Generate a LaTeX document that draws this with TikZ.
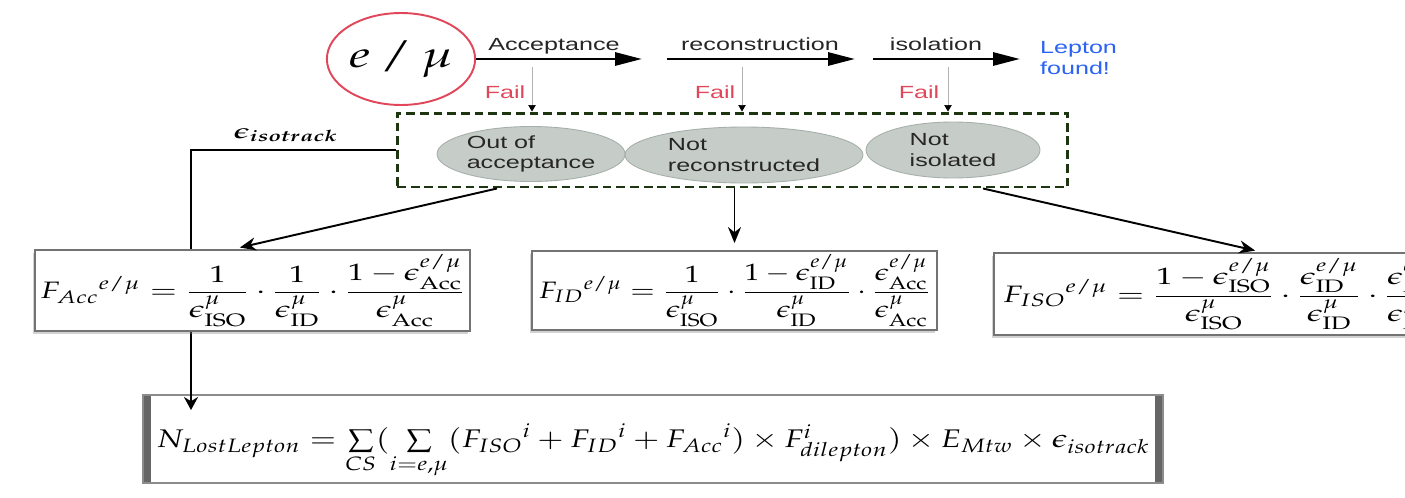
\documentclass[tikz,border=0pt]{standalone}
\usepackage{amsmath}
\usepackage{mathpazo}
\usepackage[no-math]{fontspec}
\newfontfamily\labelfont{Liberation Sans}
\usetikzlibrary{
  arrows.meta, positioning, calc, backgrounds,
  shapes.geometric, shadows
}
\definecolor{redA}{HTML}{E0475A}
\definecolor{blueA}{HTML}{2B63F5}
\definecolor{greenA}{HTML}{1E3512}
\definecolor{grayA}{HTML}{C6CDC9}
\definecolor{grayB}{HTML}{A6AFAA}
\newcommand{\stretchx}[2][1.43]{\scalebox{#1}[1]{#2}}
\tikzset{
  lepton/.style={
    ellipse, draw=redA, line width=1.1pt, inner sep=0pt,
    minimum width=2.64cm, minimum height=1.84cm,
    font=\fontsize{21}{24}\selectfont
  },
  steplabel/.style={
    font=\labelfont\fontsize{10}{11.5}\selectfont, text=black!85, inner sep=1pt
  },
  faillabel/.style={
    font=\labelfont\fontsize{10}{11.5}\selectfont, text=redA, inner sep=1pt
  },
  failcase/.style={
    ellipse, draw=grayB, fill=grayA, line width=0.5pt, inner sep=0pt,
    align=left, font=\labelfont\fontsize{10}{11.5}\selectfont, text=black!85
  },
  failgroup/.style={
    draw=greenA, line width=1.7pt, dash pattern=on 5pt off 2.8pt,
    minimum width=13.42cm, minimum height=1.48cm
  },
  eqbox/.style={
    draw=black!55, line width=1pt, fill=white, inner sep=2pt,
    drop shadow={shadow xshift=-1.2pt, shadow yshift=-1.5pt, opacity=0.35},
    font=\fontsize{13.5}{16}\selectfont
  },
  sumbox/.style={
    draw=black!45, line width=0.9pt, fill=white,
    minimum width=20.4cm, minimum height=1.76cm,
    font=\fontsize{14.5}{17}\selectfont,
    path picture={
      \fill[black!60] (path picture bounding box.north west)
        rectangle ([xshift=0.15cm]path picture bounding box.south west);
      \fill[black!60] (path picture bounding box.north east)
        rectangle ([xshift=-0.15cm]path picture bounding box.south east);
    }
  },
  flow/.style={-{Triangle[length=5.4mm, width=2.6mm]}, line width=1.7pt},
  failarrow/.style={-{Triangle[length=1.3mm, width=1.5mm, color=black]}, draw=black!30, line width=0.4pt},
  link/.style={-{Stealth[length=3.2mm, width=2.6mm]}, line width=1.1pt, shorten >=4pt},
  feed/.style={-{Stealth[length=2.6mm, width=2.8mm]}, line width=1.6pt, shorten >=-9pt}
}

\begin{document}
\begin{tikzpicture}[x=0.02cm, y=-0.02cm]
  \begin{scope}[on background layer]
    \fill[white] (0,0) rectangle (1405,497);
  \end{scope}
  \useasboundingbox (0,0) rectangle (1405,497);
  \clip (0,0) rectangle (1405,497);

  % selection chain
  \node[lepton] (lep) at (401,59) {\stretchx{$e\,/\,\mu$}};
  \node[steplabel, anchor=base] (acc) at (554,50) {\stretchx{Acceptance}};
  \node[steplabel, anchor=base] (reco) at (760,50) {\stretchx{reconstruction}};
  \node[steplabel, anchor=base] (iso) at (936,50) {\stretchx{isolation}};
  \node[steplabel, text=blueA, align=left, anchor=west] (found) at (1038,58)
    {\stretchx{Lepton}\\\stretchx{found!}};

  \coordinate (acc1) at (642,59);
  \coordinate (reco0) at (667,59);
  \coordinate (reco1) at (855,59);
  \coordinate (iso0) at (873,59);
  \coordinate (iso1) at (1020,59);
  \draw[flow] (lep) -- (acc1);
  \draw[flow] (reco0) -- (reco1);
  \draw[flow] (iso0) -- (iso1);

  % failed leptons
  \node[failgroup] (group) at (732.5,150) {};
  \node[failcase, minimum width=3.76cm, minimum height=1.1cm] (outacc) at (531,154)
    {\stretchx{Out of}\\\stretchx{acceptance}};
  \node[failcase, minimum width=4.76cm, minimum height=1.12cm] (noreco) at (744,155)
    {\stretchx{Not}\\\stretchx{reconstructed}};
  \node[failcase, minimum width=3.48cm, minimum height=1.12cm] (noiso) at (953,150)
    {\stretchx{Not}\\\stretchx{isolated}};

  \coordinate (drop1) at (532,67);
  \coordinate (drop2) at (742,67);
  \coordinate (drop3) at (948,67);
  \draw[failarrow] (drop1) -- (drop1 |- group.north);
  \draw[failarrow] (drop2) -- (drop2 |- group.north);
  \draw[failarrow] (drop3) -- (drop3 |- group.north);
  \node[faillabel, anchor=base] (fail1) at (505,98) {\stretchx{Fail}};
  \node[faillabel, anchor=base] (fail2) at (715,98) {\stretchx{Fail}};
  \node[faillabel, anchor=base] (fail3) at (919,98) {\stretchx{Fail}};

  \node[font=\fontsize{12}{14}\selectfont, anchor=base] (isotrk) at (286,138)
    {\stretchx{$\boldsymbol{\epsilon_{isotrack}}$}};

  % correction factors
  \node[eqbox, minimum width=8.7cm, minimum height=1.62cm] (facc) at (252.5,290.5)
    {\stretchx[1.37]{${F_{Acc}}^{e/\mu} = \dfrac{1}{\epsilon^{\mu}_{\mathrm{ISO}}}\cdot
      \dfrac{1}{\epsilon^{\mu}_{\mathrm{ID}}}\cdot
      \dfrac{1-\epsilon^{e/\mu}_{\mathrm{Acc}}}{\epsilon^{\mu}_{\mathrm{Acc}}}$}};
  \node[eqbox, minimum width=8.1cm, minimum height=1.58cm] (fid) at (734.5,290.5)
    {\stretchx[1.25]{${F_{ID}}^{e/\mu} = \dfrac{1}{\epsilon^{\mu}_{\mathrm{ISO}}}\cdot
      \dfrac{1-\epsilon^{e/\mu}_{\mathrm{ID}}}{\epsilon^{\mu}_{\mathrm{ID}}}\cdot
      \dfrac{\epsilon^{e/\mu}_{\mathrm{Acc}}}{\epsilon^{\mu}_{\mathrm{Acc}}}$}};
  \node[eqbox, anchor=west, inner xsep=0.18cm, minimum height=1.64cm] (fiso) at (993,294)
    {\stretchx[1.38]{${F_{ISO}}^{e/\mu} = \dfrac{1-\epsilon^{e/\mu}_{\mathrm{ISO}}}{\epsilon^{\mu}_{\mathrm{ISO}}}\cdot
      \dfrac{\epsilon^{e/\mu}_{\mathrm{ID}}}{\epsilon^{\mu}_{\mathrm{ID}}}\cdot
      \dfrac{\epsilon^{e/\mu}_{\mathrm{Acc}}}{\epsilon^{\mu}_{\mathrm{Acc}}}$}};

  \draw[link] (group.south -| 497,0) -- (facc.north -| 233,0);
  \draw[link] (group.south -| fid.north) -- (fid.north);
  \draw[link] (group.south -| 983,0) -- (fiso.north -| 1262,0);

  % total estimate
  \coordinate (bend) at (191,150);
  \begin{scope}[on background layer]
    \node[sumbox] (total) at (653,439)
      {\raisebox{-7pt}[\height][\depth]{\stretchx[1.25]{$N_{LostLepton} =
        \sum\limits_{CS}(\sum\limits_{i=e,\mu}({F_{ISO}}^{i}
        + {F_{ID}}^{i} + {F_{Acc}}^{i})\times F^{i}_{dilepton})\times E_{Mtw}
        \times\epsilon_{isotrack}$}}};
    \draw[feed] (group.west) -- (bend) -- (bend |- total.north);
  \end{scope}
\end{tikzpicture}
\end{document}
